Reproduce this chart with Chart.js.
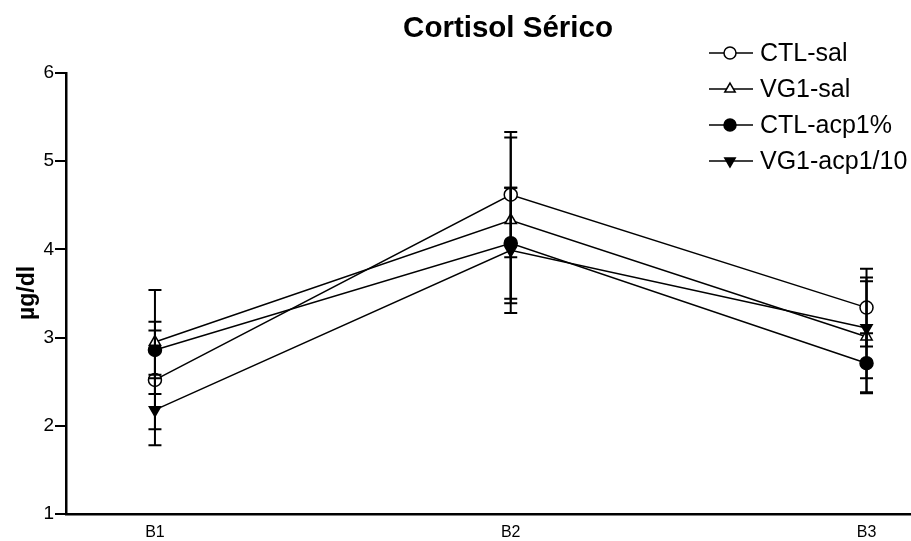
<!DOCTYPE html>
<html lang="pt-br">
<head>
    <meta charset="UTF-8">
    <title>Cortisol Sérico</title>
    <script src="https://cdn.jsdelivr.net/npm/chart.js"></script>
    <style>
        html, body { margin: 0; background: #fff; overflow: hidden; }
        /* 8px a mais: o Chart.js reserva o raio dos pontos na direita */
        #grafico { width: 919px; height: 541px; position: relative; }
        canvas { display: block; }
    </style>
</head>
<body>
    <div id="grafico"><canvas id="myChart"></canvas></div>
<script>
    // dados
    var grupos = ['B1', 'B2', 'B3']
    var posicoes = [1, 2, 3]
    var nomesSeries = ['CTL-sal', 'VG1-sal', 'CTL-acp1%', 'VG1-acp1/10']
    var ctlSal = [2.52, 4.62, 3.34]
    var ctlSalErro = [0.56, 0.71, 0.44]
    var vg1Sal = [2.95, 4.33, 3.01]
    var vg1SalErro = [0.59, 0.94, 0.63]
    var ctlAcp = [2.86, 4.07, 2.71]
    var ctlAcpErro = [0.32, 0.63, 0.34]
    var vg1Acp = [2.18, 3.99, 3.11]
    var vg1AcpErro = [0.40, 0.71, 0.57]
    var ticksY = [1, 2, 3, 4, 5, 6]

    var fonte = '"Liberation Sans", Arial, sans-serif'

    function pontos(valores) {
        return valores.map((v, i) => ({ x: posicoes[i], y: v }))
    }

    var estilos = [
        { style: 'circle', fill: '#fff', rot: 0 },
        { style: 'triangle', fill: '#fff', rot: 0 },
        { style: 'circle', fill: '#000', rot: 0 },
        { style: 'triangle', fill: '#000', rot: 180 }
    ]
    var valoresSeries = [ctlSal, vg1Sal, ctlAcp, vg1Acp]
    var errosSeries = [ctlSalErro, vg1SalErro, ctlAcpErro, vg1AcpErro]

    var datasets = nomesSeries.map((nome, i) => ({
        label: nome,
        data: pontos(valoresSeries[i]),
        erros: errosSeries[i],
        showLine: true,
        borderColor: '#000',
        borderWidth: 1.5,
        pointStyle: estilos[i].style,
        pointRotation: estilos[i].rot,
        pointRadius: 6.5,
        pointBorderWidth: 1.5,
        pointBorderColor: '#000',
        pointBackgroundColor: estilos[i].fill
    }))

    // barras de erro desenhadas com as escalas do grafico
    var barrasErro = {
        id: 'barrasErro',
        afterDatasetsDraw(chart) {
            var c = chart.ctx
            var sx = chart.scales.x
            var sy = chart.scales.y
            c.save()
            c.strokeStyle = '#000'
            c.lineWidth = 2
            chart.data.datasets.forEach(ds => {
                ds.data.forEach((p, i) => {
                    var px = sx.getPixelForValue(p.x)
                    var topo = sy.getPixelForValue(p.y + ds.erros[i])
                    var base = sy.getPixelForValue(p.y - ds.erros[i])
                    c.beginPath()
                    c.moveTo(px, topo); c.lineTo(px, base)
                    c.moveTo(px - 6.5, topo); c.lineTo(px + 6.5, topo)
                    c.moveTo(px - 6.5, base); c.lineTo(px + 6.5, base)
                    c.stroke()
                })
            })
            c.restore()
        }
    }

    // titulo e legenda
    var textos = {
        id: 'textos',
        afterDraw(chart) {
            var c = chart.ctx
            c.save()
            c.fillStyle = '#000'
            c.textBaseline = 'middle'
            c.textAlign = 'center'
            c.font = 'bold 29.5px ' + fonte
            c.fillText('Cortisol Sérico', 508, 29)

            c.font = '25px ' + fonte
            c.textAlign = 'left'
            chart.data.datasets.forEach((ds, i) => {
                var y = 53 + i * 36
                c.strokeStyle = '#000'
                c.lineWidth = 1.5
                c.beginPath()
                c.moveTo(709, y); c.lineTo(753, y)
                c.stroke()
                c.fillStyle = ds.pointBackgroundColor
                c.strokeStyle = '#000'
                Chart.helpers.drawPoint(c, {
                    pointStyle: ds.pointStyle,
                    rotation: ds.pointRotation,
                    radius: 6,
                    borderWidth: 1.5
                }, 730, y)
                c.fillStyle = '#000'
                c.fillText(ds.label, 760, y + 1)
            })

            // rotulo do eixo y
            c.font = 'bold 23px ' + fonte
            c.translate(28, 293)
            c.rotate(-Math.PI / 2)
            c.textAlign = 'center'
            c.fillText('µg/dl', 0, 0)
            c.restore()
        }
    }

    const ctx = document.getElementById('myChart');

    var grafico = new Chart(ctx, {
        type: 'scatter',
        data: { datasets: datasets },
        plugins: [barrasErro, textos],
        options: {
            responsive: true,
            maintainAspectRatio: false,
            animation: false,
            layout: { padding: { top: 73, left: 0, right: 0, bottom: 0 } },
            plugins: {
                legend: { display: false },
                tooltip: { enabled: false }
            },
            scales: {
                x: {
                    type: 'linear',
                    min: 0.75,
                    max: 3.125,
                    afterBuildTicks: (eixo) => { eixo.ticks = posicoes.map(v => ({ value: v })) },
                    afterFit: (eixo) => {
                        eixo.height = 27
                        eixo.paddingLeft = 0
                        eixo.paddingRight = 0
                    },
                    ticks: {
                        color: '#000',
                        font: { family: fonte, size: 16 },
                        padding: 9,
                        callback: (v) => grupos[posicoes.indexOf(v)] || ''
                    },
                    grid: { display: false, drawTicks: false },
                    border: { color: '#000', width: 2.5 }
                },
                y: {
                    min: 1,
                    max: 6,
                    afterBuildTicks: (eixo) => { eixo.ticks = ticksY.map(v => ({ value: v })) },
                    afterFit: (eixo) => {
                        eixo.width = 66
                        eixo.paddingTop = 0
                        eixo.paddingBottom = 0
                    },
                    ticks: {
                        color: '#000',
                        font: { family: fonte, size: 19 },
                        padding: 1
                    },
                    grid: {
                        drawOnChartArea: false,
                        drawTicks: true,
                        tickLength: 11,
                        color: '#000',
                        lineWidth: 2
                    },
                    border: { color: '#000', width: 2.5 }
                }
            }
        }
    });
</script>
</body>
</html>
